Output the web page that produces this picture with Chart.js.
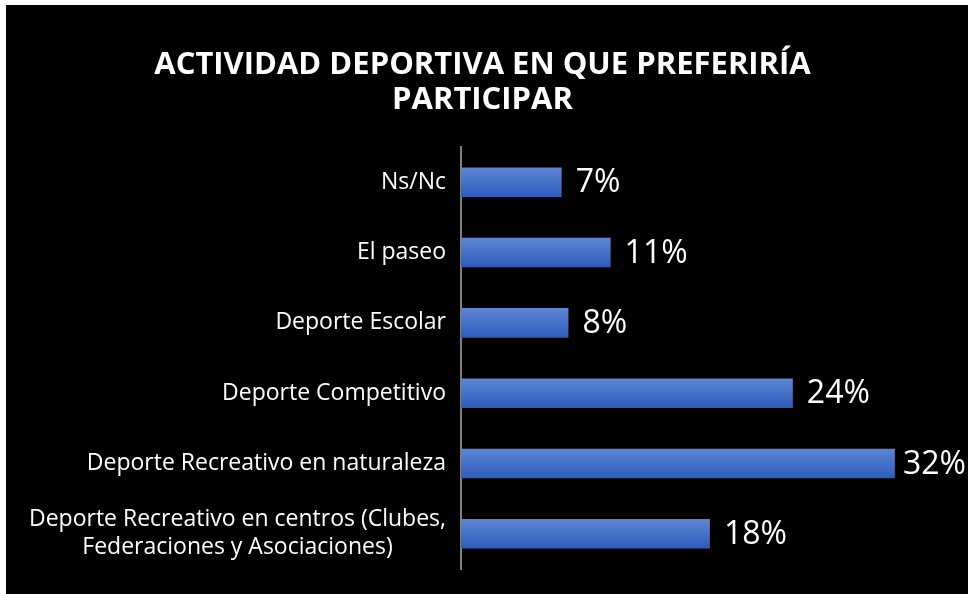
<!DOCTYPE html>
<html>
<head>
<meta charset="utf-8">
<script src="https://cdn.jsdelivr.net/npm/chart.js@4/dist/chart.umd.min.js"></script>
<style>
  html, body { margin: 0; padding: 0; background: #fff; }
  #wrap { position: absolute; left: 6px; top: 5px; width: 962px; height: 589px; background: #000; }
</style>
</head>
<body>
<div id="wrap"><canvas id="chart"></canvas></div>
<script>
'use strict';

const categories = [
  ['Ns/Nc'],
  ['El paseo'],
  ['Deporte Escolar'],
  ['Deporte Competitivo'],
  ['Deporte Recreativo en naturaleza'],
  ['Deporte Recreativo en centros (Clubes,', 'Federaciones y Asociaciones)']
];
const percents = [7.4, 11.0, 7.9, 24.4, 31.9, 18.3];
const titleLines = ['ACTIVIDAD DEPORTIVA EN QUE PREFERIRÍA', 'PARTICIPAR'];

const FONT = '"Open Sans", sans-serif';

// draws category names (centered multi-line, right edge near axis) and value labels
const labelsPlugin = {
  id: 'labels',
  afterDraw(chart) {
    const ctx = chart.ctx;
    const y = chart.scales.y;
    const area = chart.chartArea;
    ctx.save();
    ctx.fillStyle = '#fff';
    ctx.textBaseline = 'middle';

    ctx.font = '23px ' + FONT;
    categories.forEach((lines, i) => {
      const cy = y.getPixelForValue(i);
      const w = Math.max(...lines.map(l => ctx.measureText(l).width));
      const cx = area.left - 15 - w / 2;
      ctx.textAlign = 'center';
      const lh = 28;
      lines.forEach((l, j) => {
        ctx.fillText(l, cx, cy + (j - (lines.length - 1) / 2) * lh);
      });
    });

    ctx.font = '32px ' + FONT;
    ctx.textAlign = 'left';
    const meta = chart.getDatasetMeta(0);
    meta.data.forEach((bar, i) => {
      const txt = Math.round(percents[i]) + '%';
      const tw = ctx.measureText(txt).width;
      const x = Math.min(bar.x + 14, chart.width - 2 - tw);
      ctx.fillText(txt, x, bar.y + 1);
    });
    ctx.restore();
  }
};

function barGradient(context) {
  const chart = context.chart;
  if (!chart.chartArea) return '#4472c4';
  const yc = chart.scales.y.getPixelForValue(context.dataIndex);
  const g = chart.ctx.createLinearGradient(0, yc - 15, 0, yc + 15);
  g.addColorStop(0, '#5f86d4');
  g.addColorStop(1, '#2d5cbc');
  return g;
}

function renderChart() {
  const canvasElem = document.getElementById('chart');
  const data = {
    labels: categories.map(c => c.join(' ')),
    datasets: [{
      data: percents,
      backgroundColor: barGradient,
      borderWidth: 0,
      barPercentage: 0.42,
      categoryPercentage: 1
    }]
  };

  const config = {
    type: 'bar',
    data: data,
    options: {
      indexAxis: 'y',
      responsive: true,
      maintainAspectRatio: false,
      animation: false,
      layout: { padding: { left: 22, right: 31, top: 0, bottom: 25 } },
      plugins: {
        legend: { display: false },
        tooltip: { enabled: false },
        title: {
          display: true,
          text: titleLines,
          color: '#fff',
          font: { family: FONT, size: 31, weight: 'bold', lineHeight: 1.13 },
          padding: { top: 43, bottom: 29 }
        }
      },
      scales: {
        x: { display: false, min: 0, max: 35 },
        y: {
          grid: { display: false },
          border: { display: true, color: '#808080', width: 2 },
          ticks: { display: false },
          afterFit(scale) { scale.width = 433; }
        }
      }
    },
    plugins: [labelsPlugin]
  };

  new Chart(canvasElem, config);
}

renderChart();
</script>
</body>
</html>
